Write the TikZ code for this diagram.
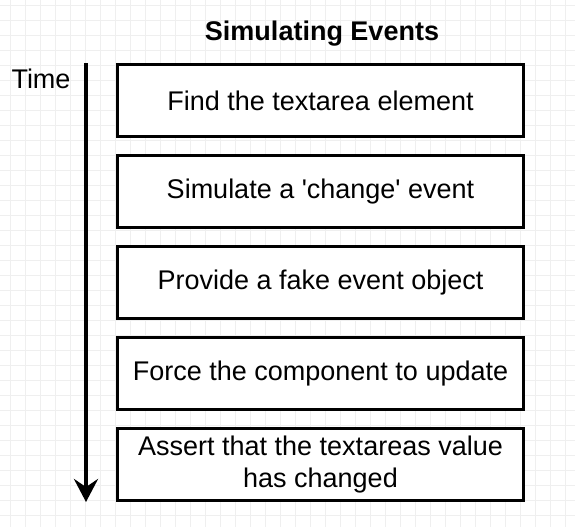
\documentclass[tikz,border=0pt]{standalone}
\usepackage{fontspec}
\setmainfont{Liberation Sans}
\usepackage{xcolor}
\usepackage{tikz}
\usetikzlibrary{arrows.meta,positioning}
\definecolor{gridgray}{HTML}{EFEFEF}
\newcommand{\diagfont}{\fontsize{27}{32}\selectfont}
\tikzset{
  stepbox/.style={draw=black, line width=3pt, fill=white, align=center, minimum width=406pt, minimum height=72pt, inner sep=0pt, font=\diagfont},
  label/.style={font=\diagfont, inner sep=0pt},
  timearrow/.style={-{Stealth[length=23pt, width=24pt, inset=8pt]}, line width=4.5pt, draw=black}
}

\begin{document}
\begin{tikzpicture}[x=1pt, y=-1pt, node distance=16pt]
  \useasboundingbox (0,0) rectangle (575,527);
  % background grid
  \fill[white] (0,0) rectangle (575,527);
  \foreach \gx in {10,25,...,570} \draw[gridgray, line width=0.6pt] (\gx,0) -- (\gx,527);
  \foreach \gy in {5,20,...,525} \draw[gridgray, line width=0.6pt] (0,\gy) -- (575,\gy);

  \node[label, font=\diagfont\bfseries] (title) at (322,34) {Simulating Events};
  \node[label] (time) at (41,79) {Time};

  \node[stepbox] (find) at (320.5,100.5) {Find the textarea element};
  \node[stepbox, below=of find] (simulate) {Simulate a \textquotesingle change\textquotesingle{} event};
  \node[stepbox, below=of simulate] (fake) {Provide a fake event object};
  \node[stepbox, below=of fake] (force) {Force the component to update};
  \node[stepbox, below=of force] (assert) {Assert that the textareas value\\has changed};

  \coordinate (tstart) at (86,63);
  \coordinate (tend) at (86,502);
  \draw[timearrow] (tstart) -- (tend);
\end{tikzpicture}
\end{document}
